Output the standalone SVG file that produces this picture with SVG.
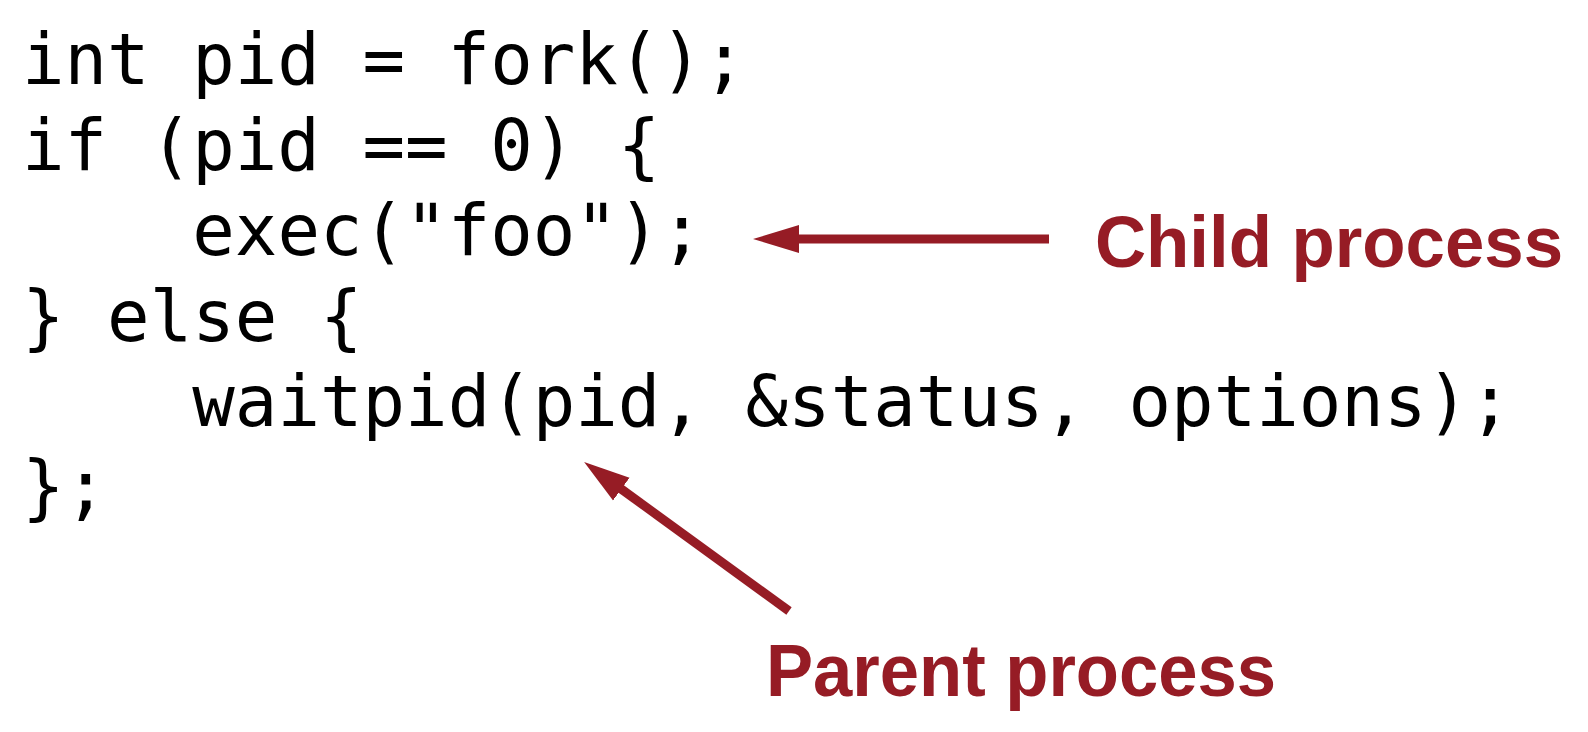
<svg xmlns="http://www.w3.org/2000/svg" width="1588" height="732" viewBox="0 0 1588 732">
<style>
.code{font-family:"DejaVu Sans Mono","Liberation Mono",monospace;font-size:70.7px;fill:#000}
.lbl{font-family:"Liberation Sans",Arial,sans-serif;font-weight:bold;fill:#961C25}
.conn{stroke:#961C25;stroke-width:9;fill:none;stroke-linecap:butt}
</style>
<defs>
<marker id="ah" markerUnits="userSpaceOnUse" viewBox="-1 -15 47 30" refX="0" refY="0" markerWidth="47" markerHeight="30" orient="auto">
<path d="M-1,-14 L45,0 L-1,14 Z" fill="#961C25"/>
</marker>
</defs>
<rect width="1588" height="732" fill="#fff"/>
<g id="code">
<text class="code" x="22" y="84">int pid = fork();</text>
<text class="code" x="22" y="170">if (pid == 0) {</text>
<text class="code" x="192.3" y="255">exec("foo");</text>
<text class="code" x="22" y="341">} else {</text>
<text class="code" x="192.3" y="426">waitpid(pid, &amp;status, options);</text>
<text class="code" x="22" y="511">};</text>
</g>
<g id="child-label">
<text class="lbl" x="1095" y="267" font-size="72" textLength="468" lengthAdjust="spacingAndGlyphs">Child process</text>
</g>
<g id="parent-label">
<text class="lbl" x="766" y="696" font-size="74" textLength="510" lengthAdjust="spacingAndGlyphs">Parent process</text>
</g>
<g id="connectors">
<line class="conn" x1="1049" y1="239" x2="798" y2="239" marker-end="url(#ah)"/>
<line class="conn" x1="789" y1="611" x2="620.5" y2="488.5" marker-end="url(#ah)"/>
</g>
</svg>
